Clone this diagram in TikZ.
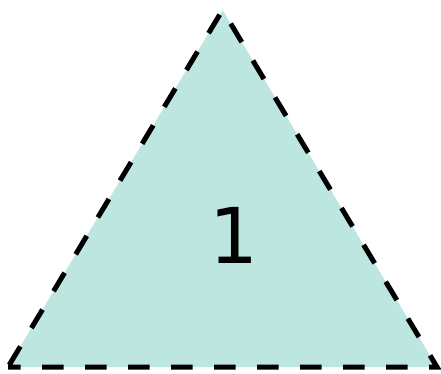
\documentclass[tikz,border=0pt]{standalone}
\usepackage{fontspec}
\setmainfont{DejaVu Sans}
\definecolor{trifill}{RGB}{190,230,224}
\tikzset{
  tri/.style={fill=trifill, draw=black, line width=5pt, dash pattern=on 21.5pt off 21.5pt, dash phase=9pt, line join=miter},
  lbl/.style={font=\fontsize{77}{80}\selectfont, inner sep=0pt}
}
\begin{document}
\begin{tikzpicture}[x=1pt,y=1pt]
\useasboundingbox (0,0) rectangle (441,373);
\coordinate (L) at (8,6);
\coordinate (R) at (437,6);
\coordinate (T) at (222.5,363);
\draw[tri] (L) -- (R) -- (T) -- cycle;
\node[lbl] (one) at (234,138) {1};
\end{tikzpicture}
\end{document}
